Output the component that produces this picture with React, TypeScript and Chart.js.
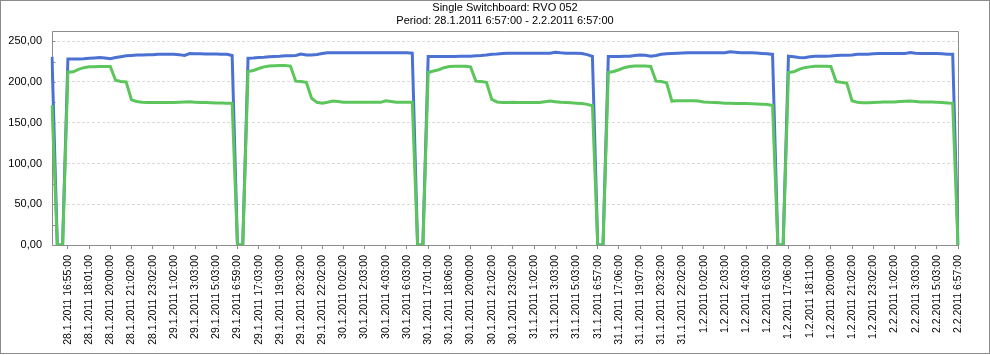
import React, { useEffect, useRef } from 'react';
import { Chart, registerables } from 'chart.js';

Chart.register(...registerables);

const TITLE_LINE_1 = 'Single Switchboard: RVO 052';
const TITLE_LINE_2 = 'Period: 28.1.2011 6:57:00 - 2.2.2011 6:57:00';

// Visible x tick labels (one every 4 samples, first at sample 3)
const TICK_LABELS = [
  '28.1.2011 16:55:00', '28.1.2011 18:01:00', '28.1.2011 20:00:00', '28.1.2011 21:02:00', '28.1.2011 23:02:00',
  '29.1.2011 1:02:00', '29.1.2011 3:03:00', '29.1.2011 5:03:00', '29.1.2011 6:59:00', '29.1.2011 17:03:00',
  '29.1.2011 19:03:00', '29.1.2011 20:32:00', '29.1.2011 22:02:00',
  '30.1.2011 0:02:00', '30.1.2011 2:03:00', '30.1.2011 4:03:00', '30.1.2011 6:03:00', '30.1.2011 17:01:00',
  '30.1.2011 18:06:00', '30.1.2011 20:00:00', '30.1.2011 21:02:00', '30.1.2011 23:02:00',
  '31.1.2011 1:02:00', '31.1.2011 3:03:00', '31.1.2011 5:03:00', '31.1.2011 6:57:00', '31.1.2011 17:06:00',
  '31.1.2011 19:07:00', '31.1.2011 20:32:00', '31.1.2011 22:02:00',
  '1.2.2011 0:02:00', '1.2.2011 2:03:00', '1.2.2011 4:03:00', '1.2.2011 6:03:00', '1.2.2011 17:06:00',
  '1.2.2011 18:11:00', '1.2.2011 20:00:00', '1.2.2011 21:02:00', '1.2.2011 23:02:00',
  '2.2.2011 1:02:00', '2.2.2011 3:03:00', '2.2.2011 5:03:00', '2.2.2011 6:57:00',
];
const SAMPLE_COUNT = 172;
const FIRST_LABELLED_SAMPLE = 3;
const SAMPLES_PER_LABEL = 4;

// Blue series (samples)
const BLUE_START = [230.8, 0, 0];
const BLUE_C1 = [228.3, 228.3, 228.3, 228.5, 229, 229.5, 230, 229.5, 228.5, 230, 231, 232, 232.5, 233, 233, 233.5,
  233.5, 234, 234, 234, 234, 233.5, 232.5, 234.8, 234.5, 234.5, 234.3, 234.3, 234.3, 234, 234, 232.5];
const BLUE_GAP1 = [0, 0];
const BLUE_C2 = [229.2, 229.5, 230, 230.2, 230.8, 231.2, 231.5, 232, 232.2, 232.4, 234.2, 233.2, 233.2, 233.8, 234.8, 235.7,
  235.7, 235.7, 235.7, 235.7, 235.7, 235.7, 235.7, 235.7, 235.7, 235.7, 235.7, 235.7, 235.7, 235.7, 235.7, 235.3];
const BLUE_GAP2 = [0, 0];
const BLUE_C3 = [231.2, 231.2, 231.2, 231.2, 231.2, 231.2, 231.4, 231.4, 231.6, 232, 232.4, 233, 234, 234.2, 234.8, 235.3,
  235.3, 235.3, 235.3, 235.3, 235.3, 235.3, 235.3, 235.3, 236.5, 235.8, 235.3, 235.3, 235.3, 235, 233.5, 231.5];
const BLUE_GAP3 = [0, 0];
const BLUE_C4 = [231.2, 231.2, 231.2, 231.4, 231.6, 232.4, 233, 232.8, 231.5, 232.5, 234, 234.7, 235, 235.2, 235.5, 235.9,
  235.9, 235.9, 235.9, 235.9, 235.9, 235.9, 235.9, 237, 236.5, 235.9, 235.9, 235.9, 235.5, 235, 234.5, 233.8];
const BLUE_GAP4 = [0, 0];
const BLUE_C5 = [231.6, 231, 230, 229.8, 231, 231.6, 231.6, 231.6, 231.8, 232.5, 232.8, 232.8, 233.2, 234, 234, 234,
  234.5, 234.9, 234.9, 234.9, 234.9, 234.9, 234.9, 236, 235.3, 234.9, 234.9, 234.9, 234.9, 234.5, 234, 234];
const BLUE_END = [0];

// Green series (samples)
const GREEN_START = [171.6, 0, 0];
const GREEN_C1 = [212, 212.5, 215.5, 217.5, 218.5, 218.5, 219, 219, 219, 202, 200.5, 200, 178, 176, 175, 174.8,
  174.8, 174.8, 174.8, 174.8, 174.8, 175, 175.3, 175.6, 175.2, 174.8, 174.8, 174.5, 174.3, 174.2, 174, 174];
const GREEN_GAP1 = [0, 0];
const GREEN_C2 = [212.8, 214, 216.5, 218.5, 219.5, 220, 220.2, 220.2, 219.5, 201, 200.5, 199.5, 180, 175, 173.8, 175,
  176.5, 176, 175, 175, 175, 175, 175, 175, 175, 175, 176.8, 176, 175, 175, 175, 175];
const GREEN_GAP2 = [0, 0];
const GREEN_C3 = [211.6, 213.5, 215, 217.5, 219, 219.2, 219.2, 219.2, 218.5, 201, 200.5, 199.5, 178.5, 175.5, 174.8, 174.8,
  175, 174.8, 174.8, 174.8, 174.8, 174.8, 175.8, 176.6, 175.8, 175, 174.8, 174.5, 174, 173.5, 172.5, 170.8];
const GREEN_GAP3 = [0, 0];
const GREEN_C4 = [211.6, 212.8, 215, 217.5, 219, 219.5, 219.5, 219.5, 219, 201, 200.5, 199, 176.5, 176.8, 177, 177,
  176.8, 176.5, 175.5, 175, 174.8, 174.5, 174, 173.8, 173.6, 173.5, 173.5, 173.2, 173, 172.8, 172.3, 171];
const GREEN_GAP4 = [0, 0];
const GREEN_C5 = [211.6, 212.4, 215.5, 217.5, 218.5, 219.2, 219.4, 219.4, 219, 200.5, 199.5, 198.5, 177, 175, 174.5, 174.5,
  174.8, 175, 175.3, 175.3, 175.5, 176, 176.3, 176.5, 176, 175.5, 175.3, 175.5, 175.2, 174.8, 174.3, 173.8];
const GREEN_END = [0];

const BLUE = [...BLUE_START, ...BLUE_C1, ...BLUE_GAP1, ...BLUE_C2, ...BLUE_GAP2, ...BLUE_C3, ...BLUE_GAP3,
  ...BLUE_C4, ...BLUE_GAP4, ...BLUE_C5, ...BLUE_END];
const GREEN = [...GREEN_START, ...GREEN_C1, ...GREEN_GAP1, ...GREEN_C2, ...GREEN_GAP2, ...GREEN_C3, ...GREEN_GAP3,
  ...GREEN_C4, ...GREEN_GAP4, ...GREEN_C5, ...GREEN_END];

const Y_MIN = 0;
const Y_MAX = 262.5;
const Y_STEP = 25;
const Y_LABEL_STEP = 50;

const FONT = "'Liberation Sans', Arial, sans-serif";

function buildCategories(): string[] {
  const cats: string[] = new Array(SAMPLE_COUNT).fill('');
  TICK_LABELS.forEach((lbl, k) => {
    cats[FIRST_LABELLED_SAMPLE + k * SAMPLES_PER_LABEL] = lbl;
  });
  return cats;
}

const framePlugin = {
  id: 'framePlugin',
  beforeDraw(chart: any) {
    const { ctx, width, height } = chart;
    ctx.save();
    ctx.fillStyle = '#ffffff';
    ctx.fillRect(0, 0, width, height);
    ctx.strokeStyle = '#8c8c8c';
    ctx.lineWidth = 1;
    ctx.strokeRect(0.5, 0.5, width - 1, height - 2);
    ctx.restore();
  },
  beforeDatasetsDraw(chart: any) {
    const { ctx, chartArea: a, scales } = chart;
    const y = scales.y;
    ctx.save();
    ctx.strokeStyle = '#8c8c8c';
    ctx.lineWidth = 1;
    const l = Math.round(a.left) + 0.5;
    const t = Math.round(a.top) + 0.5;
    const r = Math.round(a.right) + 0.5;
    const b = Math.round(a.bottom) + 0.5;
    ctx.beginPath();
    ctx.rect(l, t, r - l, b - t);
    y.ticks.forEach((tk: any) => {
      if (tk.value > Y_MIN && tk.value < Y_MAX && tk.value % Y_STEP === 0) {
        const py = Math.round(y.getPixelForValue(tk.value)) + 0.5;
        ctx.moveTo(l, py);
        ctx.lineTo(l + 3, py);
      }
    });
    ctx.stroke();
    ctx.restore();
  },
};

export default function App() {
  const ref = useRef<HTMLCanvasElement | null>(null);

  useEffect(() => {
    if (!ref.current) return;
    const categories = buildCategories();
    const chart = new Chart(ref.current, {
      type: 'line',
      data: {
        labels: categories,
        datasets: [
          {
            label: 'Blue',
            data: BLUE,
            borderColor: '#4b72d2',
            backgroundColor: '#4b72d2',
            borderWidth: 3,
            pointRadius: 0,
            tension: 0,
            order: 2,
          },
          {
            label: 'Green',
            data: GREEN,
            borderColor: '#5cc65c',
            backgroundColor: '#5cc65c',
            borderWidth: 3,
            pointRadius: 0,
            tension: 0,
            order: 1,
          },
        ],
      },
      options: {
        animation: false,
        responsive: false,
        events: [],
        layout: { padding: { left: 0, right: 32, top: 0, bottom: 0 } },
        plugins: {
          legend: { display: false },
          tooltip: { enabled: false },
          title: {
            display: true,
            text: [TITLE_LINE_1, TITLE_LINE_2],
            color: '#000',
            fullSize: false,
            font: { family: FONT, size: 11, weight: 'normal', lineHeight: 1.2 },
            padding: { top: 1.5, bottom: 3.1 },
          },
        },
        scales: {
          x: {
            type: 'category',
            offset: false,
            grid: {
              display: true,
              drawOnChartArea: false,
              drawTicks: true,
              tickLength: 4,
              tickColor: '#8c8c8c',
            },
            border: { display: false },
            ticks: {
              autoSkip: false,
              maxRotation: 90,
              minRotation: 90,
              padding: 6,
              color: '#000',
              font: { family: FONT, size: 10.5 },
            },
            afterBuildTicks(scale: any) {
              const labels = scale.getLabels();
              scale.ticks = scale.ticks.filter((t: any) => labels[t.value] !== '');
            },
            afterFit(scale: any) {
              scale.height = 110;
            },
          },
          y: {
            min: Y_MIN,
            max: Y_MAX,
            grid: {
              drawTicks: false,
              color: (ctx: any) =>
                ctx.tick && ctx.tick.value > 0 && ctx.tick.value % Y_LABEL_STEP === 0 ? '#dadada' : 'rgba(0,0,0,0)',
            },
            border: { display: false, dash: [3, 2] },
            ticks: {
              stepSize: Y_STEP,
              includeBounds: false,
              padding: 10,
              color: '#000',
              font: { family: FONT, size: 11 },
              callback: (v: any) =>
                Number(v) % Y_LABEL_STEP === 0 ? Number(v).toFixed(2).replace('.', ',') : '',
            },
            afterFit(scale: any) {
              scale.width = 52;
            },
          },
        },
      },
      plugins: [framePlugin],
    });
    return () => chart.destroy();
  }, []);

  return (
    <div style={{ position: 'fixed', left: 0, top: 0, width: 990, height: 355, background: '#fff' }}>
      <canvas ref={ref} width={990} height={355} style={{ display: 'block' }} />
    </div>
  );
}
